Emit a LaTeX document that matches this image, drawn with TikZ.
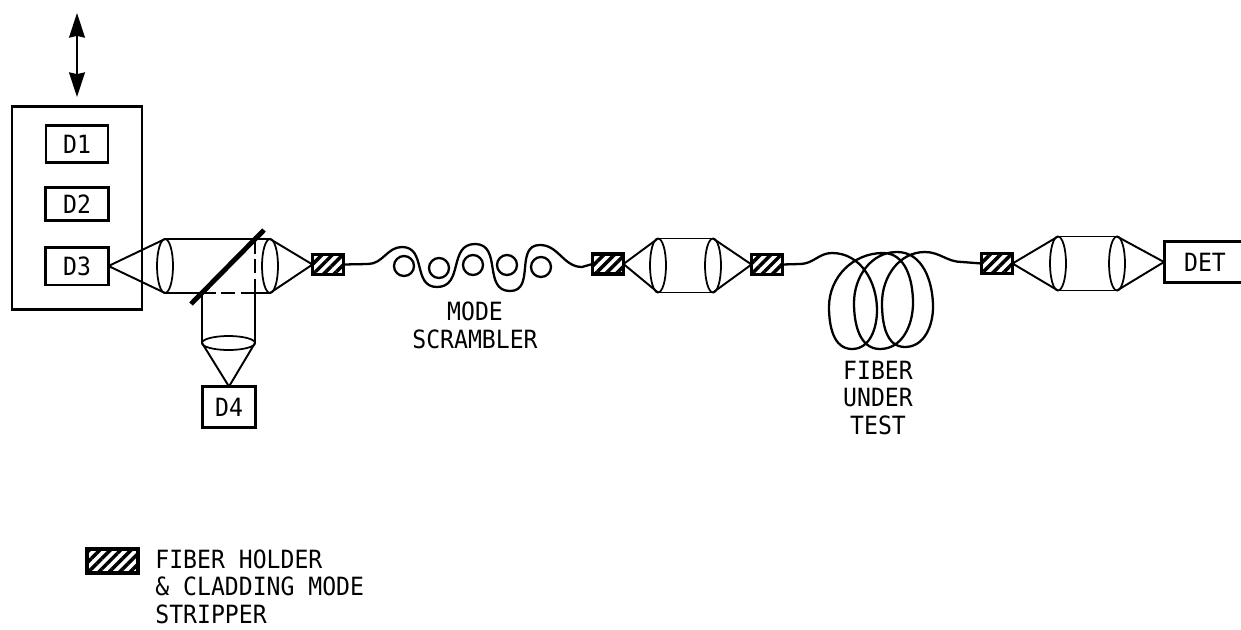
\documentclass[tikz,border=0pt]{standalone}
\usepackage{fontspec}
\setmonofont[FakeStretch=0.92]{DejaVu Sans Mono}
\usetikzlibrary{arrows.meta,shapes.geometric,patterns.meta}

\begin{document}
\begin{tikzpicture}[x=0.02cm,y=-0.02cm,>=Stealth,
 det/.style={draw,line width=1.7pt,inner sep=0pt,outer sep=0pt,font=\ttfamily\fontsize{14.3}{16}\selectfont},
 lab/.style={inner sep=0pt,align=center,font=\ttfamily\fontsize{14.3}{15.9}\selectfont},
 lens/.style={ellipse,draw,line width=1pt,inner sep=0pt,outer sep=0pt,minimum width=0.32cm,minimum height=1.08cm},
 holder/.style={draw,line width=1.8pt,inner sep=0pt,outer sep=0pt,minimum width=0.62cm,minimum height=0.40cm,
   pattern={Lines[angle=45,distance=4.2pt,line width=2pt]}},
 ln/.style={line width=1.1pt},
 wave/.style={out=0,in=180,looseness=1.2},
 fiber/.style={line width=1.3pt,line join=round}]
\useasboundingbox (0,0) rectangle (1241,629);
% translation stage
\coordinate (top) at (77,13);
\coordinate (bot) at (77,97);
\draw[{Stealth[length=14pt,width=9pt,inset=1pt]}-{Stealth[length=14pt,width=9pt,inset=1pt]},line width=1.2pt] (top)--(bot);
\node[draw,line width=1.3pt,minimum width=2.60cm,minimum height=4.06cm,inner sep=0pt] (stage) at (77,208) {};
\node[det,minimum width=1.24cm,minimum height=0.74cm] (dA) at (77,144) {D1};
\node[det,minimum width=1.26cm,minimum height=0.66cm] (dB) at (77,204) {D2};
\node[det,minimum width=1.26cm,minimum height=0.76cm] (dC) at (77,266) {D3};
\node[det,minimum width=1.06cm,minimum height=0.82cm] (dD) at (229,407) {D4};
% launch optics
\node[lens] (lA) at (165,266) {};
\node[lens] (lB) at (270,266) {};
\node[holder] (hA) at (328,264.5) {};
\draw[ln] (dC.east)--(lA.north) (dC.east)--(lA.south);
\draw[ln] (lA.north)--(lB.north);
\draw[ln] (lB.north)--(hA.west) (lB.south)--(hA.west);
\coordinate (bsA) at (191,304);
\coordinate (bsB) at (264,230);
\coordinate (tubeL) at (202,293);
\coordinate (tubeR) at (255,293);
\coordinate (tubeT) at (255,240);
\node[lens,minimum width=1.06cm,minimum height=0.28cm] (lD) at (228.5,343) {};
\draw[ln] (lA.south)--(tubeL) (tubeR)--(lB.south);
\draw[ln,dash pattern=on 8pt off 3pt] (tubeL)--(tubeR);
\draw[ln,dash pattern=on 8pt off 3pt] (tubeT)--(tubeR);
\draw[ln] (tubeL)--(lD.west) (tubeR)--(lD.east);
\draw[ln] (lD.west)--(dD.north) (lD.east)--(dD.north);
\draw[line width=2.8pt] (bsA)--(bsB);
% mode scrambler
\foreach \n/\x/\y in {a/404/266,b/439/268,c/473/265,d/507/265,e/541/267}
  \node[circle,draw,line width=1.3pt,minimum size=0.40cm,inner sep=0pt] (c\n) at (\x,\y) {};
\node[holder] (hB) at (608,264) {};
\draw[fiber] (hA.east) -- (368,264) to[out=0,in=180] (402,247) to[wave] (437,287) to[wave] (475,244)
  to[wave] (510,291) to[wave] (540,245) to[out=0,in=180] (582,267) -- (hB.west);
\node[lab] (scr) at (475,325) {MODE\\SCRAMBLER};
% second relay
\node[lens] (lE) at (658,265.5) {};
\node[lens] (lF) at (713,265.5) {};
\node[holder] (hC) at (767,264.5) {};
\draw[ln] (hB.east)--(lE.north) (hB.east)--(lE.south);
\draw[ln] (lE.north)--(lF.north) (lE.south)--(lF.south);
\draw[ln] (lF.north)--(hC.west) (lF.south)--(hC.west);
% fiber coil
\node[holder] (hD) at (997,263.5) {};
\draw[fiber] (hC.east) -- (800,264) to[out=0,in=180] (832,253) to[out=0,in=90] (877,310) to[out=-90,in=0] (852,349)
  to[out=180,in=-90] (829,307) to[out=90,in=180] (883,253) to[out=0,in=90] (913,303) to[out=-90,in=0] (880,349)
  to[out=180,in=-90] (854,303) to[out=90,in=180] (897,252) to[out=0,in=90] (933,307) to[out=-90,in=0] (905,347)
  to[out=180,in=-90] (882,303) to[out=90,in=180] (925,252) to[out=0,in=180] (962,262) -- (hD.west);
\node[lab] (fut) at (878,398) {FIBER\\UNDER\\TEST};
% detector side
\node[lens] (lG) at (1058,263.5) {};
\node[lens] (lH) at (1117,263.5) {};
\node[det,minimum width=1.64cm,minimum height=0.82cm] (dE) at (1205,262) {};
\node[lab] (detl) at (1205,262) {DET};
\draw[ln] (hD.east)--(lG.north) (hD.east)--(lG.south);
\draw[ln] (lG.north)--(lH.north) (lG.south)--(lH.south);
\draw[ln] (lH.north)--(dE.west) (lH.south)--(dE.west);
% legend
\node[holder,minimum width=1.02cm,minimum height=0.48cm] (hL) at (112.5,561) {};
\node[lab,align=left,anchor=north west] (leg) at (155,549) {FIBER HOLDER\\\& CLADDING MODE\\STRIPPER};
\end{tikzpicture}
\end{document}
